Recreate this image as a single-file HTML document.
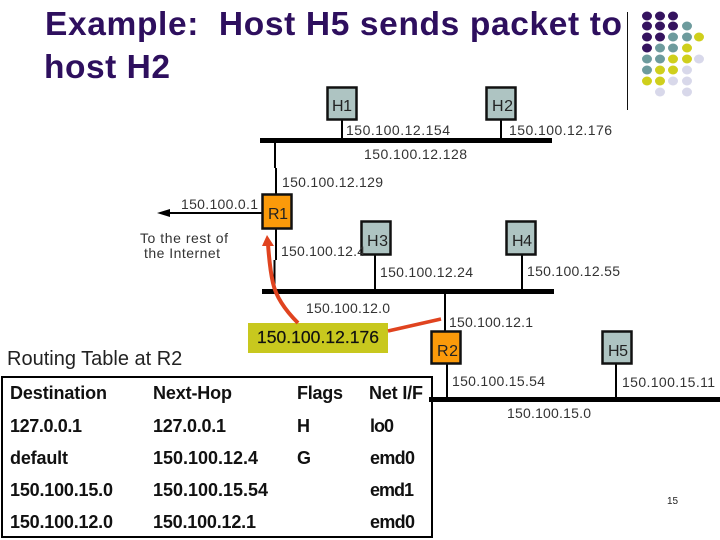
<!DOCTYPE html>
<html><head><meta charset="utf-8"><style>
html,body{margin:0;padding:0;background:#fff;width:720px;height:540px;overflow:hidden}
svg{display:block}
text{font-family:"Liberation Sans",Arial,sans-serif}
.t{font-size:33.5px;font-weight:bold;fill:#2e0f5e}
.l{font-size:14px;fill:#333}
.n{font-size:16px;fill:#222}
.b{font-size:18px;font-weight:bold;fill:#111}
.h{fill:#aec4c2;stroke:#111;stroke-width:2.5}
.r{fill:#fb9a0a;stroke:#111;stroke-width:2.5}
</style></head><body>
<svg width="720" height="540" viewBox="0 0 720 540" xmlns="http://www.w3.org/2000/svg">
<rect width="720" height="540" fill="#fff"/>
<text class="t" x="45" y="35" textLength="577" xml:space="preserve">Example:  Host H5 sends packet to</text>
<text class="t" x="44" y="78" textLength="126">host H2</text>
<line x1="627.5" y1="12" x2="627.5" y2="110" stroke="#111" stroke-width="1"/>
<g fill="#35135f">
<ellipse cx="647" cy="16" rx="5" ry="4.5"/><ellipse cx="660" cy="16" rx="5" ry="4.5"/><ellipse cx="673" cy="16" rx="5" ry="4.5"/>
<ellipse cx="647" cy="26" rx="5" ry="4.5"/><ellipse cx="660" cy="26" rx="5" ry="4.5"/><ellipse cx="673" cy="26" rx="5" ry="4.5"/>
<ellipse cx="647" cy="37" rx="5" ry="4.5"/><ellipse cx="660" cy="37" rx="5" ry="4.5"/>
<ellipse cx="647" cy="48" rx="5" ry="4.5"/>
</g>
<g fill="#6d9b9d">
<ellipse cx="687" cy="26" rx="5" ry="4.5"/>
<ellipse cx="673" cy="37" rx="5" ry="4.5"/><ellipse cx="687" cy="37" rx="5" ry="4.5"/>
<ellipse cx="660" cy="48" rx="5" ry="4.5"/><ellipse cx="673" cy="48" rx="5" ry="4.5"/>
<ellipse cx="647" cy="59" rx="5" ry="4.5"/><ellipse cx="660" cy="59" rx="5" ry="4.5"/>
<ellipse cx="647" cy="70" rx="5" ry="4.5"/>
</g>
<g fill="#cfcf1c">
<ellipse cx="699" cy="37" rx="5" ry="4.5"/>
<ellipse cx="687" cy="48" rx="5" ry="4.5"/>
<ellipse cx="673" cy="59" rx="5" ry="4.5"/><ellipse cx="687" cy="59" rx="5" ry="4.5"/>
<ellipse cx="660" cy="70" rx="5" ry="4.5"/><ellipse cx="673" cy="70" rx="5" ry="4.5"/>
<ellipse cx="647" cy="81" rx="5" ry="4.5"/><ellipse cx="660" cy="81" rx="5" ry="4.5"/>
</g>
<g fill="#d8d8ea">
<ellipse cx="699" cy="59" rx="5" ry="4.5"/>
<ellipse cx="687" cy="70" rx="5" ry="4.5"/>
<ellipse cx="673" cy="81" rx="5" ry="4.5"/><ellipse cx="687" cy="81" rx="5" ry="4.5"/>
<ellipse cx="660" cy="92" rx="5" ry="4.5"/><ellipse cx="687" cy="92" rx="5" ry="4.5"/>
</g>

<g stroke="#000" stroke-width="2" fill="none">
<path d="M342 120V138M501 120V138M275 143V168M276 168V194M276 229V260M274.500 260V290M375 255V289M522 255V289M445 294V331M447 364V397M616 364V397"/>
<path d="M262 213H170"/>
</g>
<path d="M157 213L170 209V217Z" fill="#000"/>
<rect x="260" y="138" width="292" height="5" fill="#000"/>
<rect x="262" y="289" width="292" height="5" fill="#000"/>
<rect x="429" y="397" width="291" height="5" fill="#000"/>

<rect class="h" x="327.500" y="87.500" width="29" height="32"/>
<rect class="h" x="486.500" y="87.500" width="29" height="32"/>
<rect class="h" x="361.500" y="221.500" width="29" height="33"/>
<rect class="h" x="506.500" y="221.500" width="29" height="33"/>
<rect class="h" x="602.500" y="331.500" width="29" height="32"/>
<rect class="r" x="262.500" y="194.500" width="29" height="34"/>
<rect class="r" x="431.500" y="331.500" width="29" height="32"/>

<text class="n" x="332" y="111" textLength="20">H1</text>
<text class="n" x="492" y="111" textLength="21">H2</text>
<text class="n" x="268" y="219" textLength="20">R1</text>
<text class="n" x="367" y="246" textLength="21">H3</text>
<text class="n" x="512" y="246" textLength="20">H4</text>
<text class="n" x="437" y="356" textLength="21">R2</text>
<text class="n" x="608" y="356" textLength="20">H5</text>

<text class="l" x="346" y="135" textLength="104">150.100.12.154</text>
<text class="l" x="509" y="135" textLength="103">150.100.12.176</text>
<text class="l" x="364" y="159" textLength="103">150.100.12.128</text>
<text class="l" x="282" y="187" textLength="101">150.100.12.129</text>
<text class="l" x="181" y="209" textLength="77">150.100.0.1</text>
<text class="l" x="140" y="243" textLength="88">To the rest of</text>
<text class="l" x="144" y="258" textLength="76">the Internet</text>
<text class="l" x="281" y="256" textLength="84">150.100.12.4</text>
<text class="l" x="380" y="277" textLength="93">150.100.12.24</text>
<text class="l" x="527" y="276" textLength="93">150.100.12.55</text>
<text class="l" x="306" y="313" textLength="84">150.100.12.0</text>
<text class="l" x="449" y="327" textLength="84">150.100.12.1</text>
<text class="l" x="452" y="386" textLength="93">150.100.15.54</text>
<text class="l" x="622" y="387" textLength="93">150.100.15.11</text>
<text class="l" x="507" y="418" textLength="84">150.100.15.0</text>

<rect x="248" y="323" width="140" height="30" fill="#c8c81e"/>
<text x="257" y="343" font-size="17.5" fill="#111" stroke="#111" stroke-width=".2" textLength="122">150.100.12.176</text>
<path d="M298 323C285 310 276 297 273 283C270 270 269 258 268 244" fill="none" stroke="#e0431f" stroke-width="4"/>
<path d="M267 235L262 246L274 246Z" fill="#e0431f"/>
<path d="M388 331L441 319" fill="none" stroke="#e0431f" stroke-width="3.500"/>

<text x="7" y="365" font-size="20" fill="#222">Routing Table at R2</text>
<rect x="2" y="377" width="430" height="160" fill="none" stroke="#000" stroke-width="2"/>
<rect x="429" y="397" width="4" height="5" fill="#000"/>

<text class="b" x="10" y="399" textLength="97">Destination</text>
<text class="b" x="153" y="399" textLength="79">Next-Hop</text>
<text class="b" x="297" y="399" textLength="46">Flags</text>
<text class="b" x="369" y="399" textLength="54">Net I/F</text>
<text class="b" x="10" y="432" textLength="72">127.0.0.1</text>
<text class="b" x="153" y="432" textLength="73">127.0.0.1</text>
<text class="b" x="297" y="432" textLength="12">H</text>
<text class="b" x="370" y="432" textLength="24">lo0</text>
<text class="b" x="10" y="464" textLength="58">default</text>
<text class="b" x="153" y="464" textLength="105">150.100.12.4</text>
<text class="b" x="297" y="464" textLength="14">G</text>
<text class="b" x="370" y="464" textLength="45">emd0</text>
<text class="b" x="10" y="496" textLength="103">150.100.15.0</text>
<text class="b" x="153" y="496" textLength="115">150.100.15.54</text>
<text class="b" x="370" y="496" textLength="44">emd1</text>
<text class="b" x="10" y="528" textLength="103">150.100.12.0</text>
<text class="b" x="153" y="528" textLength="103">150.100.12.1</text>
<text class="b" x="370" y="528" textLength="45">emd0</text>

<text x="667" y="504" font-size="10" fill="#222">15</text>
</svg>
</body></html>
